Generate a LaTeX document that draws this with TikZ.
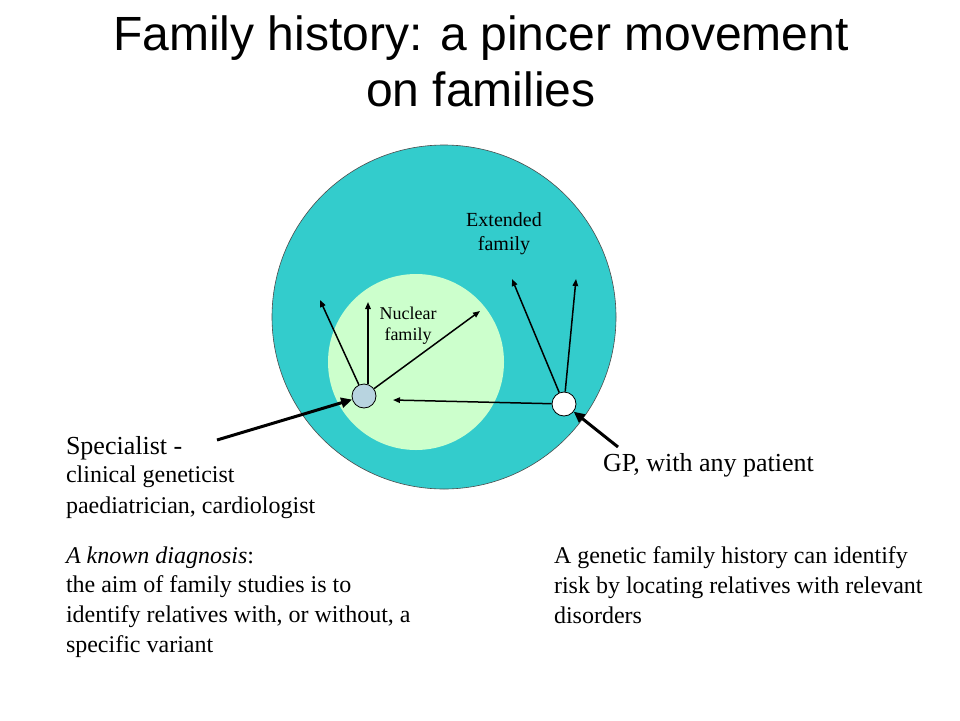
\documentclass[tikz,border=0pt]{standalone}
\usepackage{fontspec}
\setmainfont{Liberation Serif}
\newfontfamily\titlefont{Liberation Sans}
\usetikzlibrary{arrows.meta}
\definecolor{outerteal}{HTML}{33CCCC}
\definecolor{innergreen}{HTML}{CCFFCC}
\definecolor{dotblue}{HTML}{B8D4E0}
\tikzset{
  txt/.style={anchor=base west, inner sep=0pt, outer sep=0pt},
  ctxt/.style={anchor=base, inner sep=0pt, outer sep=0pt, align=center},
  thinarrow/.style={line width=1.5pt, -{Triangle[length=7pt,width=5.5pt]}},
  thickarrow/.style={line width=3pt, -{Triangle[length=11pt,width=10pt]}},
  dot/.style={circle, draw=black, line width=0.8pt, minimum size=24pt, inner sep=0pt},
}
\begin{document}
\begin{tikzpicture}[x=1pt,y=-1pt]
\useasboundingbox (0,0) rectangle (960,720);
\fill[white] (0,0) rectangle (960,720);
% title
\node[ctxt] (title1) at (481,50) {\titlefont\fontsize{48}{56}\selectfont Family history: a pincer movement};
\node[ctxt] (title2) at (481,106) {\titlefont\fontsize{48}{56}\selectfont on families};
% circles
\node[circle, draw=black!70, line width=0.6pt, fill=outerteal, minimum size=344pt, inner sep=0pt] (outer) at (444,317) {};
\node[circle, fill=innergreen, minimum size=176pt, inner sep=0pt] (inner) at (416,362) {};
% labels inside
\node[ctxt] (ext1) at (504,226) {\fontsize{20}{24}\selectfont Extended};
\node[ctxt] (ext2) at (504,250) {\fontsize{20}{24}\selectfont family};
\node[ctxt] (nuc1) at (408,319) {\fontsize{18}{21}\selectfont Nuclear};
\node[ctxt] (nuc2) at (408,340) {\fontsize{18}{21}\selectfont family};
% dots
\node[dot, fill=dotblue] (sp) at (364,396) {};
\node[dot, fill=white] (gp) at (564,404) {};
% targets
\coordinate (t1) at (320,300);
\coordinate (t2) at (368,302);
\coordinate (t3) at (480,311);
\coordinate (t4) at (512,279);
\coordinate (t5) at (576,279);
\coordinate (t6) at (393,400);
\coordinate (spsrc) at (217,440);
\coordinate (gpsrc) at (618,447);
\draw[thinarrow] (sp) -- (t1);
\draw[thinarrow] (sp.north) ++(4,0) coordinate (spn) -- (t2);
\draw[thinarrow] (sp) -- (t3);
\draw[thinarrow] (gp) -- (t4);
\draw[thinarrow] (gp) -- (t5);
\draw[thinarrow] (gp) -- (t6);
\draw[thickarrow] (spsrc) -- (sp);
\draw[thickarrow] (gpsrc) -- (gp);
% left texts
\node[txt] (spec) at (66,454) {\fontsize{26}{30}\selectfont Specialist -};
\node[txt] (clin) at (66,482) {\fontsize{24}{30}\selectfont clinical geneticist};
\node[txt] (paed) at (66,513) {\fontsize{24}{30}\selectfont paediatrician, cardiologist};
\node[txt] (kd1) at (66,563) {\fontsize{24}{30}\selectfont\textit{A known diagnosis}:};
\node[txt] (kd2) at (66,592) {\fontsize{24}{30}\selectfont the aim of family studies is to};
\node[txt] (kd3) at (66,622) {\fontsize{24}{30}\selectfont identify relatives with, or without, a};
\node[txt] (kd4) at (66,652) {\fontsize{24}{30}\selectfont specific variant};
% right texts
\node[txt] (gpt) at (603,471) {\fontsize{26}{30}\selectfont GP, with any patient};
\node[txt] (r1) at (554,563) {\fontsize{24}{30}\selectfont A genetic family history can identify};
\node[txt] (r2) at (554,593) {\fontsize{24}{30}\selectfont risk by locating relatives with relevant};
\node[txt] (r3) at (554,623) {\fontsize{24}{30}\selectfont disorders};
\end{tikzpicture}
\end{document}
